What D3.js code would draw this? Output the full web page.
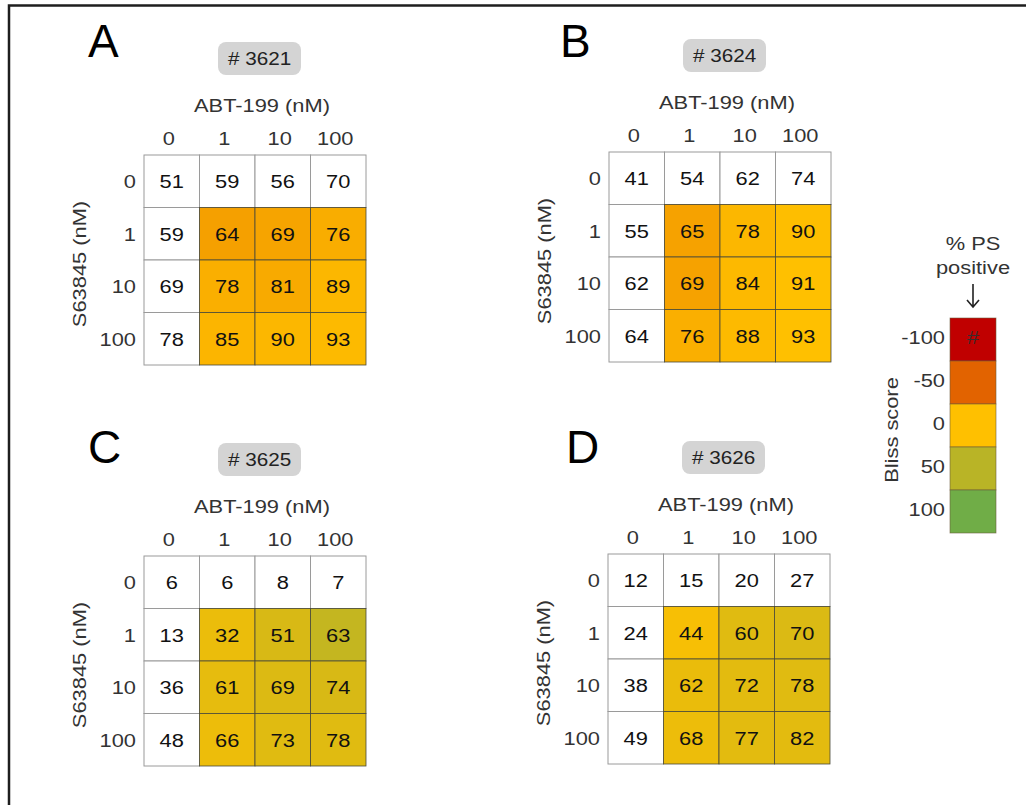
<!DOCTYPE html>
<html>
<head>
<meta charset="utf-8">
<script src="https://cdn.jsdelivr.net/npm/d3@7"></script>
<style>
  body { margin: 0; background: #fff; }
  svg { display: block; font-family: "Liberation Sans", Arial, sans-serif; }
</style>
</head>
<body>
<svg id="chart" width="1026" height="805"></svg>
<script>
// dose labels for both drugs
var abtDoses = ["0", "1", "10", "100"];
var s63845Doses = ["0", "1", "10", "100"];

var panelLetters = ["A", "B", "C", "D"];
var sampleIds = ["# 3621", "# 3624", "# 3625", "# 3626"];

// % PS positive, rows = S63845 dose, cols = ABT-199 dose
var ps3621 = [[51, 59, 56, 70], [59, 64, 69, 76], [69, 78, 81, 89], [78, 85, 90, 93]];
var ps3624 = [[41, 54, 62, 74], [55, 65, 78, 90], [62, 69, 84, 91], [64, 76, 88, 93]];
var ps3625 = [[6, 6, 8, 7], [13, 32, 51, 63], [36, 61, 69, 74], [48, 66, 73, 78]];
var ps3626 = [[12, 15, 20, 27], [24, 44, 60, 70], [38, 62, 72, 78], [49, 68, 77, 82]];

// estimated Bliss scores, null = single agent
var bliss3621 = [[null, null, null, null], [null, -17, -15, -10], [null, -9, -12, -5], [null, -6, -5, -3]];
var bliss3624 = [[null, null, null, null], [null, -16, -5, -1], [null, -16, -4, 0], [null, -9, -3, 0]];
var bliss3625 = [[null, null, null, null], [null, 14, 28, 42], [null, 18, 25, 28], [null, 13, 22, 22]];
var bliss3626 = [[null, null, null, null], [null, 6, 22, 26], [null, 15, 20, 22], [null, 13, 20, 20]];

var legendScores = [-100, -50, 0, 50, 100];
var legendColors = ["#c00000", "#e26300", "#ffc000", "#b9b426", "#70ad47"];

var psData = [ps3621, ps3624, ps3625, ps3626];
var blissData = [bliss3621, bliss3624, bliss3625, bliss3626];

// layout (grid origin + letter spot for each panel)
var panelPos = [
    {x: 144, y: 155, lx: 88, ly: 57},
    {x: 609, y: 152, lx: 560, ly: 57},
    {x: 144, y: 556, lx: 88, ly: 463},
    {x: 608, y: 554, lx: 566, ly: 463}
];
var gridW = 222, gridH = 210;
var wide = "scale(1.15,1)"; // the figure's text runs wider than plain Arial
var fs = 19;

function place(x, y, rot) {
    return "translate(" + x + "," + y + ")" + (rot ? " rotate(" + rot + ")" : "") + " " + wide;
}

var svg = d3.select("#chart");

// frame
svg.append("rect")
    .attr("x", 9).attr("y", 5.5)
    .attr("width", 1100).attr("height", 900)
    .attr("fill", "none").attr("stroke", "#1e1e1e").attr("stroke-width", 2.5);

var color = d3.scaleLinear()
    .domain(legendScores)
    .range(legendColors)
    .interpolate(d3.interpolateRgb);

function drawPanel(i) {
    var p = panelPos[i];
    var g = svg.append("g").attr("transform", "translate(" + p.x + "," + p.y + ")");

    var x = d3.scaleBand().domain(abtDoses).range([0, gridW]);
    var y = d3.scaleBand().domain(s63845Doses).range([0, gridH]);

    var cells = [];
    psData[i].forEach(function(row, r) {
        row.forEach(function(v, c) {
            cells.push({row: s63845Doses[r], col: abtDoses[c], value: v, bliss: blissData[i][r][c]});
        });
    });

    // white cells first, coloured on top so their dark lines win
    var plain = cells.filter(function(d) { return d.bliss === null; });
    var tinted = cells.filter(function(d) { return d.bliss !== null; });

    g.selectAll(".plain")
        .data(plain)
        .enter().append("rect")
            .attr("class", "plain")
            .attr("x", function(d) { return x(d.col); })
            .attr("y", function(d) { return y(d.row); })
            .attr("width", x.bandwidth())
            .attr("height", y.bandwidth())
            .attr("fill", "#fff")
            .attr("stroke", "#9a9a9a")
            .attr("stroke-width", 1);

    g.selectAll(".tinted")
        .data(tinted)
        .enter().append("rect")
            .attr("class", "tinted")
            .attr("x", function(d) { return x(d.col); })
            .attr("y", function(d) { return y(d.row); })
            .attr("width", x.bandwidth())
            .attr("height", y.bandwidth())
            .attr("fill", function(d) { return color(d.bliss); })
            .attr("stroke", "#4a4a3a")
            .attr("stroke-width", 0.8);

    g.selectAll(".val")
        .data(cells)
        .enter().append("text")
            .attr("class", "val")
            .attr("transform", function(d) {
                return place(x(d.col) + x.bandwidth() / 2, y(d.row) + y.bandwidth() / 2);
            })
            .attr("dy", "0.36em")
            .attr("text-anchor", "middle")
            .attr("font-size", fs)
            .attr("fill", "#111")
            .text(function(d) { return d.value; });

    // column ticks
    g.selectAll(".colLab")
        .data(abtDoses)
        .enter().append("text")
            .attr("transform", function(d) { return place(x(d) + x.bandwidth() / 2 - 3, -10); })
            .attr("text-anchor", "middle")
            .attr("font-size", fs)
            .attr("fill", "#333")
            .text(function(d) { return d; });

    // row ticks
    g.selectAll(".rowLab")
        .data(s63845Doses)
        .enter().append("text")
            .attr("transform", function(d) { return place(-8, y(d) + y.bandwidth() / 2); })
            .attr("dy", "0.36em")
            .attr("text-anchor", "end")
            .attr("font-size", fs)
            .attr("fill", "#333")
            .text(function(d) { return d; });

    g.append("text")
        .attr("transform", place(gridW / 2 + 7, -43))
        .attr("text-anchor", "middle")
        .attr("font-size", fs)
        .attr("fill", "#333")
        .text("ABT-199 (nM)");

    g.append("text")
        .attr("transform", place(-58, gridH / 2 + 4, -90))
        .attr("text-anchor", "middle")
        .attr("font-size", fs)
        .attr("fill", "#333")
        .text("S63845 (nM)");

    // sample badge
    g.append("rect")
        .attr("x", 74).attr("y", -113)
        .attr("width", 83).attr("height", 33)
        .attr("rx", 8)
        .attr("fill", "#d4d4d4");
    g.append("text")
        .attr("transform", place(74 + 83 / 2, -113 + 33 / 2))
        .attr("dy", "0.36em")
        .attr("text-anchor", "middle")
        .attr("font-size", 18)
        .attr("fill", "#222")
        .text(sampleIds[i]);

    svg.append("text")
        .attr("x", p.lx)
        .attr("y", p.ly)
        .attr("font-size", 46)
        .attr("fill", "#000")
        .text(panelLetters[i]);
}

for (var i = 0; i < panelLetters.length; i += 1) {
    drawPanel(i);
}

// legend
var legX = 950, legY = 318, legW = 46, legH = 215;
var ly = d3.scaleBand().domain(legendScores).range([legY, legY + legH]);
var lg = svg.append("g");

lg.selectAll(".legBox")
    .data(legendScores)
    .enter().append("rect")
        .attr("x", legX)
        .attr("y", function(d) { return ly(d); })
        .attr("width", legW)
        .attr("height", ly.bandwidth())
        .attr("fill", function(d) { return color(d); })
        .attr("stroke", "#6a5a3a")
        .attr("stroke-opacity", 0.7)
        .attr("stroke-width", 0.8);

lg.selectAll(".legLab")
    .data(legendScores)
    .enter().append("text")
        .attr("transform", function(d) { return place(legX - 5, ly(d) + ly.bandwidth() / 2 - 2); })
        .attr("dy", "0.36em")
        .attr("text-anchor", "end")
        .attr("font-size", fs)
        .attr("fill", "#333")
        .text(function(d) { return d; });

lg.append("text")
    .attr("transform", place(legX + legW / 2, ly(-100) + ly.bandwidth() / 2 - 2))
    .attr("dy", "0.36em")
    .attr("text-anchor", "middle")
    .attr("font-size", fs)
    .attr("fill", "#3a2a2a")
    .text("#");

lg.append("text")
    .attr("transform", place(898, legY + 112, -90))
    .attr("text-anchor", "middle")
    .attr("font-size", fs)
    .attr("fill", "#333")
    .text("Bliss score");

lg.append("text")
    .attr("transform", place(legX + legW / 2, 250))
    .attr("text-anchor", "middle")
    .attr("font-size", fs)
    .attr("fill", "#333")
    .text("% PS");
lg.append("text")
    .attr("transform", place(legX + legW / 2, 274))
    .attr("text-anchor", "middle")
    .attr("font-size", fs)
    .attr("fill", "#333")
    .text("positive");

// arrow down to the legend
var ax = legX + legW / 2;
lg.append("path")
    .attr("d", "M" + ax + ",284 V307 M" + (ax - 6) + ",300 L" + ax + ",307 L" + (ax + 6) + ",300")
    .attr("fill", "none")
    .attr("stroke", "#222")
    .attr("stroke-width", 1.6);
</script>
</body>
</html>
